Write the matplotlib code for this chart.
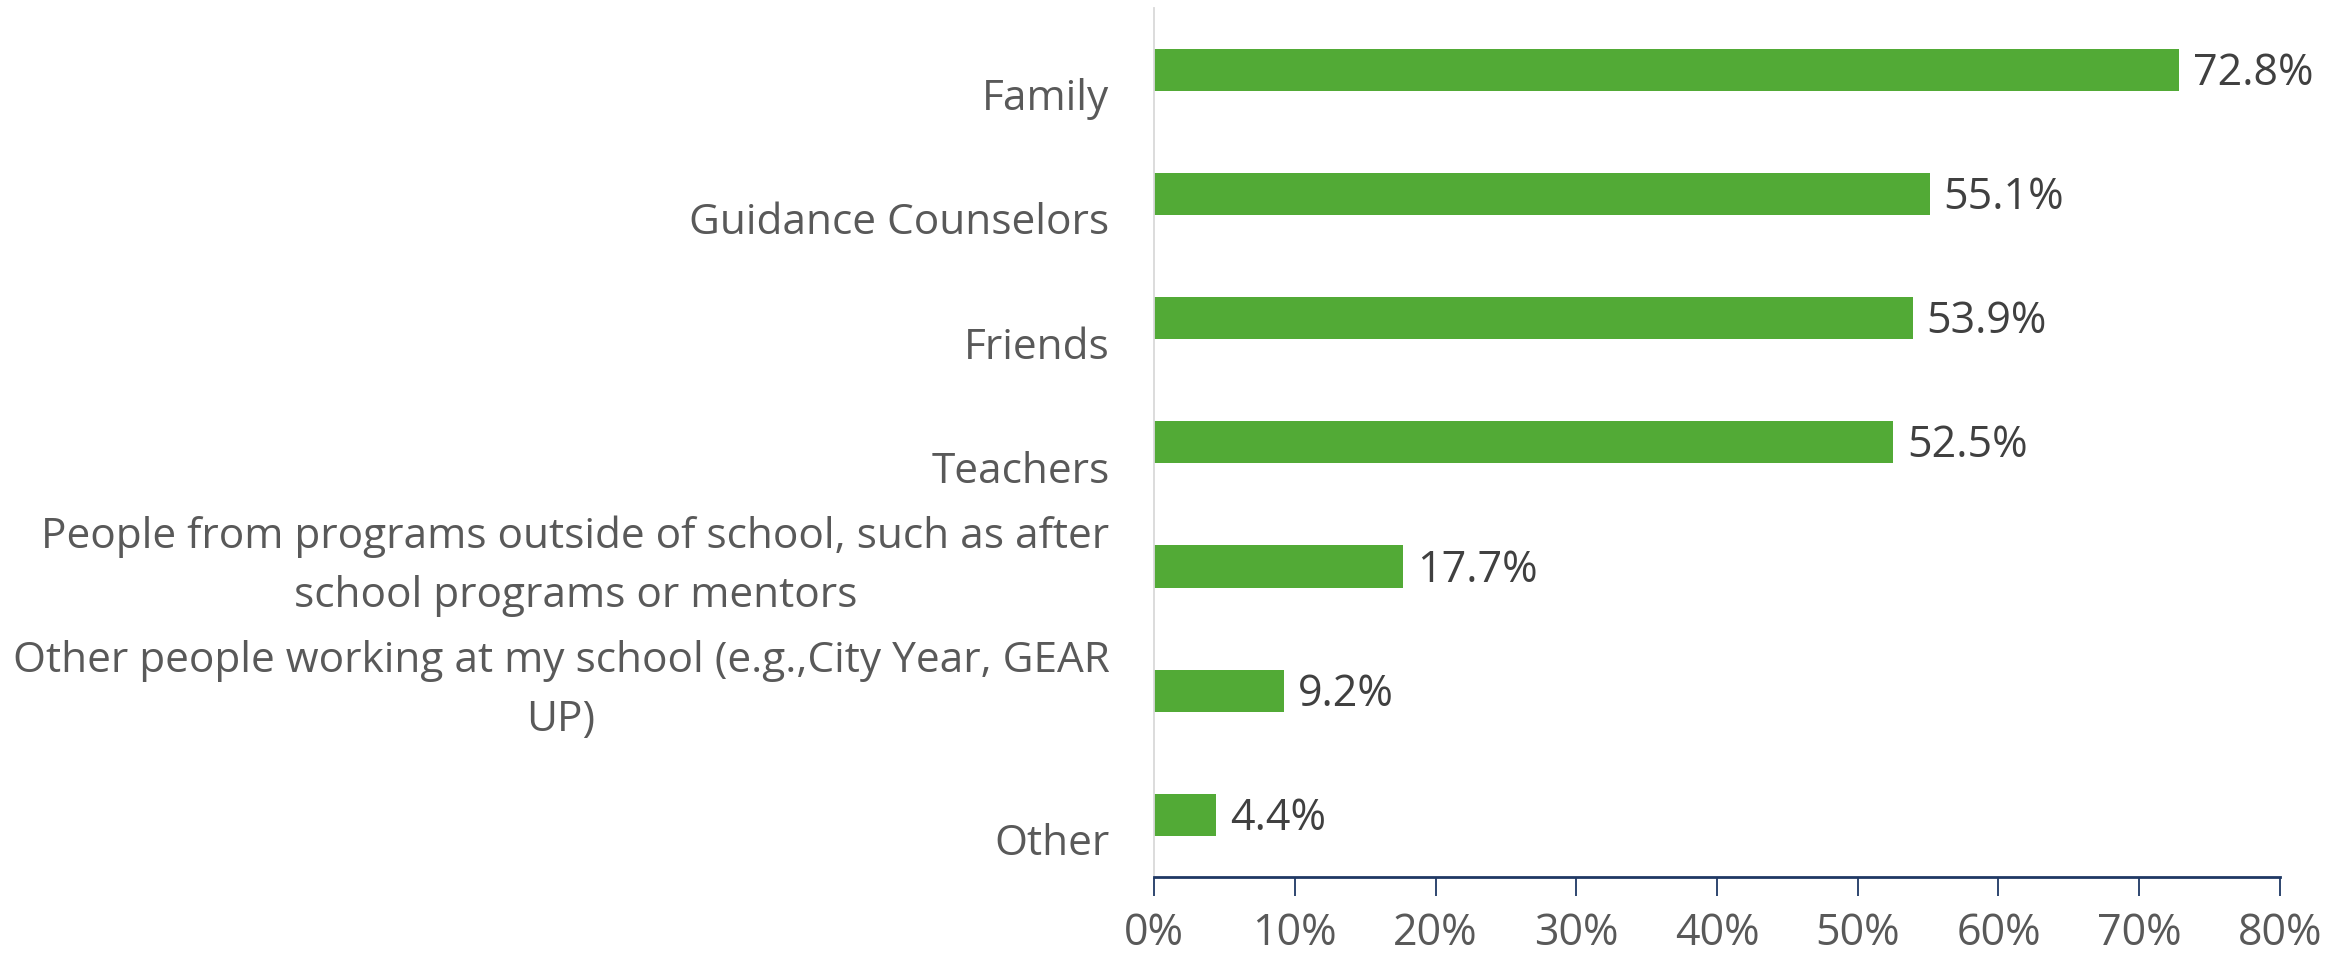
import numpy as np
import matplotlib.pyplot as plt
from matplotlib.ticker import PercentFormatter

categories = ["Family", "Guidance Counselors", "Friends", "Teachers",
              "People from programs outside of school, such as after\nschool programs or mentors",
              "Other people working at my school (e.g.,City Year, GEAR\nUP)",
              "Other"]
values = [72.8, 55.1, 53.9, 52.5, 17.7, 9.2, 4.4]
xticks = [0, 10, 20, 30, 40, 50, 60, 70, 80]

plt.rcParams['font.family'] = ['Open Sans', 'DejaVu Sans']

fig = plt.figure(figsize=(23.49, 9.56), dpi=100)
ax = fig.add_axes([0.4913, 0.0826, 0.4793, 0.9094])

y = np.arange(len(categories))
ax.barh(y, values, height=0.34, color='#52AA36')
ax.set_ylim(len(categories) - 0.5, -0.5)
ax.set_xlim(0, 80)

for yi, v in zip(y, values):
    ax.text(v + 1.0, yi + 0.03, '{:.1f}%'.format(v), va='center', ha='left',
            fontsize=31, color='#404040')

# excel puts single-line labels on the second line
labels = [c if '\n' in c else '\n' + c for c in categories]
ax.set_yticks(y)
ax.set_yticklabels(labels, fontsize=30.5, color='#595959', ha='right', va='center',
                   multialignment='center', linespacing=1.53)
ax.tick_params(axis='y', length=0, pad=32)

ax.set_xticks(xticks)
ax.xaxis.set_major_formatter(PercentFormatter(decimals=0))
ax.tick_params(axis='x', direction='out', length=14, width=1.3, color='#1F3864',
               labelsize=31, labelcolor='#595959', pad=11)

for s in ['top', 'right']:
    ax.spines[s].set_visible(False)
ax.spines['left'].set_color('#D9D9D9')
ax.spines['left'].set_linewidth(1.3)
ax.spines['bottom'].set_color('#1F3864')
ax.spines['bottom'].set_linewidth(2)

fig.savefig('out.png', dpi=100)
